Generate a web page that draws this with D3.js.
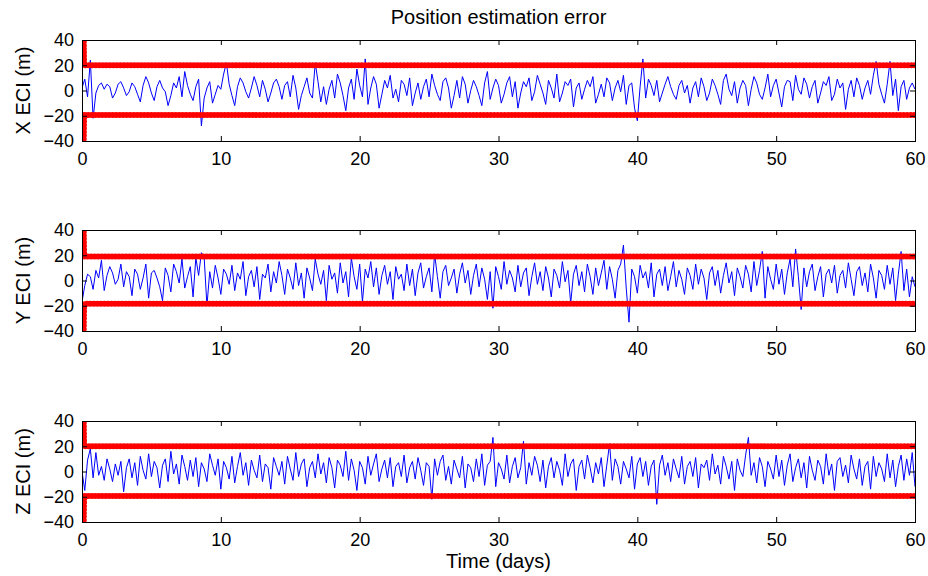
<!DOCTYPE html>
<html>
<head>
<meta charset="utf-8">
<script src="https://cdn.jsdelivr.net/npm/d3@7"></script>
<style>
  body { margin: 0; background: #fff; }
  text { font-family: "Liberation Sans", Arial, sans-serif; }
</style>
</head>
<body>
<div id="chart"></div>
<script>
// time step of the error samples (days)
const sampleStep = 0.2;

// position error samples (m), one every 0.2 days
const errX = [
  2, 9, -5, 24, -22, -2, 4, 6, 1, 5, 3, -6, -2, 5, 7, 2, -4, -1, 6, 3,
  -3, -9, 4, 11, 6, -2, -8, 3, 8, 2, -1, -12, -4, 6, 2, 11, -5, 15, 4, -3,
  -8, 3, 9, -28, -6, 2, 7, -10, -3, 4, 1, 13, 22, 5, -4, -12, 3, 10, 6, -1,
  -6, 2, 11, 4, -5, 8, 1, -9, -2, 6, 9, 3, -7, 4, 7, -5, 12, 2, -15, -4,
  3, 10, -2, -6, 22, 7, -9, 3, -11, 1, 8, -6, 13, 6, -4, -16, 2, 9, -7, 17,
  4, -5, 25, -11, 2, 11, 5, -14, -3, 8, 2, 12, -6, 1, -9, 8, 5, -4, 10, -12,
  -2, 6, -7, 3, 9, -5, 13, 4, -3, -8, 7, 10, 2, -14, -4, 8, -6, 11, 5, -10,
  0, 8, 3, -4, -12, 6, 15, -7, 2, 9, 4, -10, -3, 6, 11, -5, 7, -14, -2, 7,
  3, 10, -8, -1, 12, 5, -2, -11, 8, 2, -6, 13, -9, -2, 7, 4, 9, -13, 2, 6,
  -7, 1, 8, 3, 11, -10, -3, 5, -5, 10, 6, -8, 2, 8, -1, 12, -11, 4, 6, -14,
  -24, 3, 25, -6, 9, 4, -4, 8, -9, -2, 5, 11, 3, -3, -7, 4, 8, -2, 4, -10,
  2, 7, -5, 10, 3, -8, -2, 9, 4, -3, -11, 8, 13, 1, -4, 7, -10, 2, 8, 4,
  -12, 1, 11, 6, -3, -7, 2, 13, -5, 4, 9, -2, -13, 3, 8, 7, -8, 12, 1, -3,
  10, 5, -6, 3, 8, -10, -2, 7, 4, 11, -8, -3, 9, 2, 6, -15, 1, 8, -5, 10,
  4, -7, 2, 8, -3, 12, 23, 5, -3, -10, 5, 23, -4, 9, -16, 3, 8, -7, 2, 6,
  1
];

const errY = [
  -17, -4, 5, 3, -7, 8, 2, 16, -8, 4, 11, 6, -3, 1, 13, -5, 7, 3, -12, 9,
  5, -7, 2, 13, -14, 6, 8, 2, -5, -16, 10, 4, -9, 13, 7, -2, 17, -6, 3, 11,
  -13, 18, 4, 22, 18, -20, 7, -6, 12, 2, -11, 9, 5, -3, 12, -8, 6, 1, 15, -12,
  3, 8, -5, 11, -15, 5, 2, 13, -9, 7, -2, 15, 4, -11, 9, 2, -7, 14, -4, 6,
  -14, 10, 2, -8, 17, 5, -3, 8, -16, 12, 1, 6, -10, 14, -2, 7, -13, 18, 3, -7,
  13, -17, 9, 2, 15, -5, 10, -11, 4, 12, -3, 7, -15, 11, 1, 5, -8, 13, -4, 9,
  -12, 6, 14, -6, 3, 10, -9, 21, 3, -14, 7, 12, -4, 2, 9, -10, 5, 14, -2, 8,
  -11, 4, 13, -5, 10, 1, -15, 7, -22, 11, 3, -7, 15, -3, 8, 2, -9, 12, -5, 6,
  10, -12, 3, 14, -3, 7, -8, 11, 2, -13, 9, 4, -6, 15, -1, 8, -18, 5, 12, -4,
  7, -9, 13, 3, -11, 10, -4, 6, 16, -7, 11, 1, -14, 8, 13, 28, -6, -33, 9, 3,
  -10, 12, 2, 7, -6, 14, -13, 5, 9, -4, 11, -8, 3, 15, -5, 8, 1, -11, 10, 4,
  -7, 13, -3, 9, 2, -15, 6, 11, -4, 8, -10, 4, 14, -2, 7, -12, 10, 3, -6, 12,
  5, -9, 15, -4, 8, 23, -14, 11, 1, -7, 13, -3, 9, -11, 6, 17, -5, 25, 3, -23,
  10, -5, 7, 13, -8, 3, 11, -13, 5, 9, -2, 12, -10, 4, 8, -6, 14, 1, -12, 7,
  11, -4, 6, -9, 13, 2, -14, 8, 4, -7, 12, -3, 10, -16, 5, 23, -8, 9, -13, 3,
  -5
];

const errZ = [
  0, -15, 9, 18, -5, 15, -3, 4, -7, 10, 2, -8, 6, -3, 8, -16, 3, 10, -5, 7,
  -11, 12, 1, -6, 14, -4, 8, 3, -13, 5, 10, -8, 16, -2, 6, -10, 13, 4, -7, 9,
  -4, 11, -12, 7, 2, -8, 14, 5, -3, 10, -14, 8, 3, -6, 12, -9, 4, 15, -3, 7,
  -11, 9, 1, -5, 13, -8, 6, 3, -14, 11, 4, -3, 8, -10, 12, 2, -7, 15, -4, 6,
  10, -12, 3, 8, -5, 14, -2, 7, -9, 11, 3, -13, 9, 5, -4, 16, -7, 10, 1, -15,
  8, 3, -10, 12, -3, 6, 14, -8, 2, 9, -5, 11, -12, 4, 7, -4, 13, -9, 3, 8,
  -6, 11, 1, -11, 7, 4, -22, 10, -3, 8, 13, -7, 4, -10, 9, 2, -5, 12, -13, 6,
  3, -8, 10, -4, 14, -11, 5, 8, 27, -12, 7, 2, -6, 13, -9, 4, 11, -5, 3, 24,
  -10, 7, -3, 12, 5, -8, 9, -13, 4, 11, -5, 8, 1, -11, 14, -4, 6, 10, -15, 4,
  9, -6, 13, 3, -9, 7, -2, 11, -12, 5, 22, -7, 10, 4, -10, 8, 2, -5, 12, -14,
  6, 11, -4, 8, -11, 4, 9, -26, 5, 13, -3, 7, -8, 10, 2, -5, 12, -10, 4, 8,
  -4, 11, -13, 6, 3, 9, -7, 14, -2, 5, -10, 12, 4, -6, 8, -15, 10, 1, -4, 13,
  27, -3, 7, -9, 11, 4, -12, 8, 2, -6, 13, -4, 9, -11, 5, 14, -8, 3, 10, -5,
  7, -13, 12, 1, -7, 9, 4, -10, 14, -3, 6, -15, 8, 11, -4, 5, -9, 13, 2, -6,
  10, -11, 4, 8, -14, 12, -4, 7, 2, -8, 14, -5, 9, -12, 4, 13, -7, 10, -3, 15,
  -12
];

// covariance bound: large at start, then roughly constant
const boundDays = [0, 0.08, 60];
const boundUpperX = [80, 20, 20];
const boundLowerX = [-80, -19.5, -19.5];
const boundUpperY = [80, 19, 19];
const boundLowerY = [-80, -18.5, -18.5];
const boundUpperZ = [80, 20, 20];
const boundLowerZ = [-80, -19.5, -19.5];

const xTicks = [0, 10, 20, 30, 40, 50, 60];
const yTicks = [-40, -20, 0, 20, 40];

const panels = [
  { label: "X ECI (m)", err: errX, up: boundUpperX, lo: boundLowerX, top: 40 },
  { label: "Y ECI (m)", err: errY, up: boundUpperY, lo: boundLowerY, top: 230 },
  { label: "Z ECI (m)", err: errZ, up: boundUpperZ, lo: boundLowerZ, top: 421 }
];

const width = 928, height = 576;
const left = 82, right = 915, plotH = 101;
const font = "'Liberation Sans', Arial, sans-serif";

const svg = d3.select("#chart").append("svg")
  .attr("width", width)
  .attr("height", height);

const x = d3.scaleLinear().domain([0, 60]).range([left, right]);

panels.forEach((p, k) => {
  const y = d3.scaleLinear().domain([-40, 40]).range([p.top + plotH, p.top]);
  const g = svg.append("g");

  g.append("clipPath").attr("id", "clip" + k)
    .append("rect")
    .attr("x", left).attr("y", p.top)
    .attr("width", right - left).attr("height", plotH);

  const plot = g.append("g").attr("clip-path", `url(#clip${k})`);

  // blue error trace
  const errLine = d3.line()
    .x((d, i) => x(i * sampleStep))
    .y(d => y(d));
  plot.append("path")
    .datum(p.err)
    .attr("fill", "none")
    .attr("stroke", "#0000ff")
    .attr("stroke-width", 1)
    .attr("d", errLine);

  // red bounds, drawn thick with a scalloped edge
  const boundLine = d3.line()
    .x((d, i) => x(boundDays[i]) + 1)
    .y(d => y(d));
  [p.up, p.lo].forEach(b => {
    plot.append("path")
      .datum(b)
      .attr("fill", "none")
      .attr("stroke", "#ff0000")
      .attr("stroke-width", 4)
      .attr("d", boundLine);
    plot.append("path")
      .datum(b)
      .attr("fill", "none")
      .attr("stroke", "#ff0000")
      .attr("stroke-width", 6)
      .attr("stroke-linecap", "round")
      .attr("stroke-dasharray", "0,3.5")
      .attr("d", boundLine);
  });

  // axes with inward ticks
  const bottom = g.append("g")
    .attr("transform", `translate(0,${p.top + plotH})`)
    .call(d3.axisBottom(x).tickValues(xTicks).tickSize(-5).tickPadding(11));
  g.append("g")
    .attr("transform", `translate(0,${p.top})`)
    .call(d3.axisTop(x).tickValues(xTicks).tickSize(-5).tickFormat(""));
  const leftAxis = g.append("g")
    .attr("transform", `translate(${left},0)`)
    .call(d3.axisLeft(y).tickValues(yTicks).tickSize(-5).tickPadding(8)
      .tickFormat(d => d < 0 ? "\u2212" + Math.abs(d) : d));
  g.append("g")
    .attr("transform", `translate(${right},0)`)
    .call(d3.axisRight(y).tickValues(yTicks).tickSize(-5).tickFormat(""));

  g.selectAll(".domain").remove();
  g.selectAll(".tick line").attr("stroke", "#000");
  [bottom, leftAxis].forEach(a => a.selectAll("text")
    .attr("font-size", 18)
    .attr("fill", "#000")
    .style("font-family", font));

  g.append("rect")
    .attr("x", left + 0.5).attr("y", p.top + 0.5)
    .attr("width", right - left).attr("height", plotH)
    .attr("fill", "none")
    .attr("stroke", "#000")
    .attr("stroke-width", 1);

  g.append("text")
    .attr("transform", `translate(30,${p.top + plotH / 2}) rotate(-90)`)
    .attr("text-anchor", "middle")
    .attr("font-size", 20)
    .text(p.label);
});

svg.append("text")
  .attr("x", (left + right) / 2)
  .attr("y", 24)
  .attr("text-anchor", "middle")
  .attr("font-size", 20)
  .text("Position estimation error");

svg.append("text")
  .attr("x", (left + right) / 2)
  .attr("y", 568)
  .attr("text-anchor", "middle")
  .attr("font-size", 20)
  .text("Time (days)");
</script>
</body>
</html>
